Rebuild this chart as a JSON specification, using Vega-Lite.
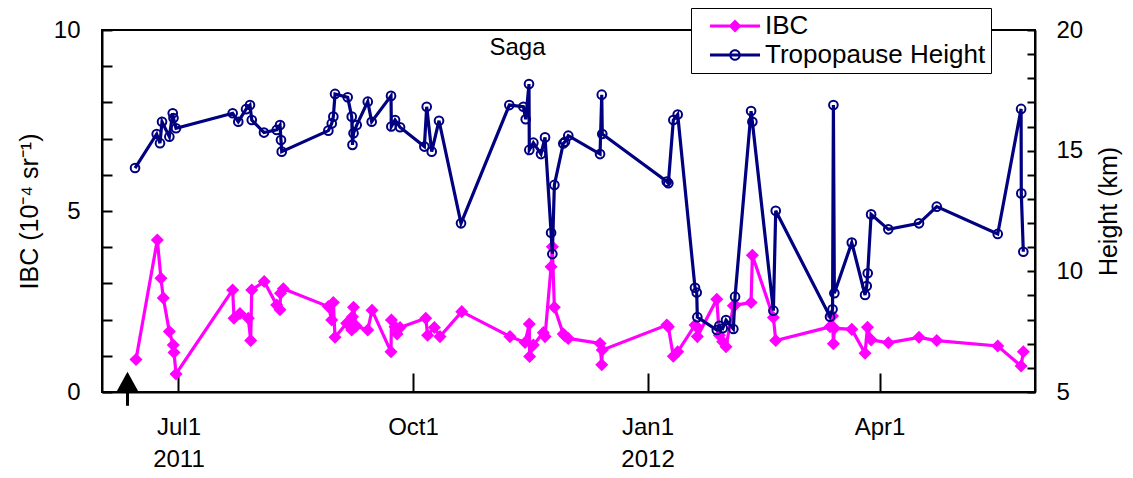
{
  "$schema": "https://vega.github.io/schema/vega-lite/v6.json",
  "width": 933,
  "height": 362,
  "autosize": {"type": "none"},
  "padding": {"left": 102, "top": 30, "right": 98, "bottom": 86},
  "background": "white",
  "config": {
    "font": "Liberation Sans",
    "view": {"stroke": "black", "strokeWidth": 2},
    "axis": {"labelFont": "Liberation Sans", "titleFont": "Liberation Sans", "labelColor": "black", "titleColor": "black", "domainColor": "black", "domainWidth": 2, "tickColor": "black", "tickWidth": 2, "grid": false, "labelFontSize": 24, "titleFontSize": 25, "titleFontWeight": "normal", "labelOverlap": false, "labelFlush": false},
    "legend": {"orient": "none", "legendX": 589, "legendY": -22, "strokeColor": "black", "fillColor": "white", "padding": 5, "labelFontSize": 26, "labelFont": "Liberation Sans", "labelColor": "black", "labelLimit": 400, "symbolSize": 100, "symbolStrokeWidth": 0, "rowPadding": 3, "symbolOffset": 26, "labelOffset": 17}
  },
  "datasets": {
    "ibc": [
      {"date": "2011-06-14T08:00", "ibc": 0.9},
      {"date": "2011-06-22T17:00", "ibc": 4.2},
      {"date": "2011-06-24T03:00", "ibc": 3.14},
      {"date": "2011-06-25T01:00", "ibc": 2.6},
      {"date": "2011-06-27T10:00", "ibc": 1.67},
      {"date": "2011-06-28T23:00", "ibc": 1.3},
      {"date": "2011-06-29T06:00", "ibc": 1.09},
      {"date": "2011-06-30T01:00", "ibc": 0.5},
      {"date": "2011-07-22T06:00", "ibc": 2.82},
      {"date": "2011-07-22T19:00", "ibc": 2.04},
      {"date": "2011-07-25T03:00", "ibc": 2.17},
      {"date": "2011-07-28T09:00", "ibc": 2.04},
      {"date": "2011-07-29T08:00", "ibc": 1.42},
      {"date": "2011-07-29T18:00", "ibc": 2.82},
      {"date": "2011-08-03T15:00", "ibc": 3.05},
      {"date": "2011-08-08T13:00", "ibc": 2.4},
      {"date": "2011-08-09T20:00", "ibc": 2.27},
      {"date": "2011-08-10T01:00", "ibc": 2.73},
      {"date": "2011-08-11T03:00", "ibc": 2.85},
      {"date": "2011-08-28T19:00", "ibc": 2.36},
      {"date": "2011-08-30T03:00", "ibc": 1.99},
      {"date": "2011-08-30T18:00", "ibc": 2.47},
      {"date": "2011-08-31T10:00", "ibc": 1.51},
      {"date": "2011-09-05T00:00", "ibc": 1.9},
      {"date": "2011-09-06T23:00", "ibc": 1.71},
      {"date": "2011-09-07T06:00", "ibc": 2.08},
      {"date": "2011-09-07T16:00", "ibc": 2.34},
      {"date": "2011-09-08T16:00", "ibc": 1.82},
      {"date": "2011-09-13T06:00", "ibc": 1.71},
      {"date": "2011-09-14T22:00", "ibc": 2.26},
      {"date": "2011-09-22T09:00", "ibc": 1.11},
      {"date": "2011-09-22T13:00", "ibc": 1.99},
      {"date": "2011-09-23T23:00", "ibc": 1.8},
      {"date": "2011-09-24T18:00", "ibc": 1.6},
      {"date": "2011-09-25T22:00", "ibc": 1.78},
      {"date": "2011-10-06T00:00", "ibc": 2.04},
      {"date": "2011-10-06T18:00", "ibc": 1.57},
      {"date": "2011-10-09T09:00", "ibc": 1.78},
      {"date": "2011-10-11T14:00", "ibc": 1.53},
      {"date": "2011-10-20T03:00", "ibc": 2.22},
      {"date": "2011-11-08T01:00", "ibc": 1.53},
      {"date": "2011-11-13T23:00", "ibc": 1.37},
      {"date": "2011-11-15T15:00", "ibc": 1.88},
      {"date": "2011-11-15T18:00", "ibc": 0.98},
      {"date": "2011-11-17T05:00", "ibc": 1.3},
      {"date": "2011-11-21T03:00", "ibc": 1.64},
      {"date": "2011-11-21T19:00", "ibc": 1.53},
      {"date": "2011-11-24T04:00", "ibc": 3.46},
      {"date": "2011-11-24T16:00", "ibc": 4.01},
      {"date": "2011-11-25T11:00", "ibc": 2.34},
      {"date": "2011-11-28T23:00", "ibc": 1.6},
      {"date": "2011-11-29T15:00", "ibc": 1.55},
      {"date": "2011-11-30T22:00", "ibc": 1.48},
      {"date": "2011-12-13T09:00", "ibc": 1.34},
      {"date": "2011-12-14T01:00", "ibc": 0.75},
      {"date": "2011-12-14T06:00", "ibc": 1.16},
      {"date": "2012-01-08T13:00", "ibc": 1.85},
      {"date": "2012-01-09T04:00", "ibc": 1.8},
      {"date": "2012-01-11T03:00", "ibc": 0.99},
      {"date": "2012-01-12T20:00", "ibc": 1.11},
      {"date": "2012-01-19T15:00", "ibc": 1.85},
      {"date": "2012-01-20T07:00", "ibc": 1.8},
      {"date": "2012-01-20T13:00", "ibc": 1.53},
      {"date": "2012-01-28T04:00", "ibc": 2.56},
      {"date": "2012-01-29T04:00", "ibc": 1.57},
      {"date": "2012-01-30T12:00", "ibc": 1.39},
      {"date": "2012-01-31T19:00", "ibc": 1.25},
      {"date": "2012-02-03T16:00", "ibc": 2.38},
      {"date": "2012-02-04T08:00", "ibc": 2.4},
      {"date": "2012-02-10T15:00", "ibc": 2.47},
      {"date": "2012-02-11T03:00", "ibc": 3.78},
      {"date": "2012-02-19T09:00", "ibc": 2.06},
      {"date": "2012-02-20T07:00", "ibc": 1.42},
      {"date": "2012-03-12T14:00", "ibc": 1.8},
      {"date": "2012-03-13T14:00", "ibc": 2.1},
      {"date": "2012-03-13T22:00", "ibc": 1.33},
      {"date": "2012-03-14T07:00", "ibc": 1.76},
      {"date": "2012-03-21T03:00", "ibc": 1.73},
      {"date": "2012-03-26T08:00", "ibc": 1.07},
      {"date": "2012-03-27T07:00", "ibc": 1.79},
      {"date": "2012-03-28T17:00", "ibc": 1.44},
      {"date": "2012-04-04T11:00", "ibc": 1.36},
      {"date": "2012-04-16T12:00", "ibc": 1.51},
      {"date": "2012-04-23T11:00", "ibc": 1.42},
      {"date": "2012-05-17T09:00", "ibc": 1.27},
      {"date": "2012-05-26T13:00", "ibc": 0.72},
      {"date": "2012-05-27T10:00", "ibc": 1.11}
    ],
    "tph": [
      {"date": "2011-06-13T23:00", "height": 14.28},
      {"date": "2011-06-22T11:00", "height": 15.69},
      {"date": "2011-06-23T18:00", "height": 15.31},
      {"date": "2011-06-24T13:00", "height": 16.2},
      {"date": "2011-06-27T10:00", "height": 15.58},
      {"date": "2011-06-28T18:00", "height": 16.55},
      {"date": "2011-06-29T01:00", "height": 16.35},
      {"date": "2011-06-30T01:00", "height": 15.93},
      {"date": "2011-07-22T06:00", "height": 16.55},
      {"date": "2011-07-24T11:00", "height": 16.2},
      {"date": "2011-07-27T12:00", "height": 16.72},
      {"date": "2011-07-29T01:00", "height": 16.89},
      {"date": "2011-07-29T18:00", "height": 16.27},
      {"date": "2011-08-03T13:00", "height": 15.75},
      {"date": "2011-08-08T13:00", "height": 15.86},
      {"date": "2011-08-09T20:00", "height": 16.06},
      {"date": "2011-08-10T05:00", "height": 15.44},
      {"date": "2011-08-10T12:00", "height": 14.96},
      {"date": "2011-08-28T19:00", "height": 15.83},
      {"date": "2011-08-30T03:00", "height": 16.13},
      {"date": "2011-08-30T18:00", "height": 16.41},
      {"date": "2011-08-31T10:00", "height": 17.35},
      {"date": "2011-09-05T09:00", "height": 17.21},
      {"date": "2011-09-06T23:00", "height": 16.41},
      {"date": "2011-09-07T06:00", "height": 15.24},
      {"date": "2011-09-07T16:00", "height": 15.72},
      {"date": "2011-09-08T22:00", "height": 16.06},
      {"date": "2011-09-13T06:00", "height": 17.03},
      {"date": "2011-09-14T19:00", "height": 16.2},
      {"date": "2011-09-22T09:00", "height": 17.27},
      {"date": "2011-09-22T12:00", "height": 16.0},
      {"date": "2011-09-23T23:00", "height": 16.27},
      {"date": "2011-09-25T22:00", "height": 15.97},
      {"date": "2011-10-05T11:00", "height": 15.17},
      {"date": "2011-10-06T09:00", "height": 16.82},
      {"date": "2011-10-08T08:00", "height": 14.96},
      {"date": "2011-10-11T05:00", "height": 16.24},
      {"date": "2011-10-19T20:00", "height": 11.99},
      {"date": "2011-11-07T19:00", "height": 16.89},
      {"date": "2011-11-13T07:00", "height": 16.82},
      {"date": "2011-11-14T05:00", "height": 16.3},
      {"date": "2011-11-15T12:00", "height": 17.76},
      {"date": "2011-11-15T15:00", "height": 15.03},
      {"date": "2011-11-17T05:00", "height": 15.33},
      {"date": "2011-11-20T05:00", "height": 14.86},
      {"date": "2011-11-21T19:00", "height": 15.55},
      {"date": "2011-11-24T04:00", "height": 11.6},
      {"date": "2011-11-24T16:00", "height": 10.72},
      {"date": "2011-11-25T11:00", "height": 13.58},
      {"date": "2011-11-28T23:00", "height": 15.3},
      {"date": "2011-11-29T15:00", "height": 15.37},
      {"date": "2011-11-30T22:00", "height": 15.62},
      {"date": "2011-12-13T09:00", "height": 14.86},
      {"date": "2011-12-14T01:00", "height": 17.32},
      {"date": "2011-12-14T06:00", "height": 15.69},
      {"date": "2012-01-08T13:00", "height": 13.72},
      {"date": "2012-01-09T04:00", "height": 13.65},
      {"date": "2012-01-11T03:00", "height": 16.27},
      {"date": "2012-01-12T20:00", "height": 16.5},
      {"date": "2012-01-19T15:00", "height": 9.32},
      {"date": "2012-01-20T07:00", "height": 9.12},
      {"date": "2012-01-20T13:00", "height": 8.1},
      {"date": "2012-01-28T04:00", "height": 7.57},
      {"date": "2012-01-29T04:00", "height": 7.74},
      {"date": "2012-01-30T12:00", "height": 7.64},
      {"date": "2012-01-31T19:00", "height": 7.98},
      {"date": "2012-02-03T16:00", "height": 7.61},
      {"date": "2012-02-04T08:00", "height": 8.95},
      {"date": "2012-02-10T15:00", "height": 16.64},
      {"date": "2012-02-11T03:00", "height": 16.2},
      {"date": "2012-02-19T09:00", "height": 8.37},
      {"date": "2012-02-20T07:00", "height": 12.51},
      {"date": "2012-03-12T14:00", "height": 8.12},
      {"date": "2012-03-13T14:00", "height": 8.43},
      {"date": "2012-03-13T22:00", "height": 16.89},
      {"date": "2012-03-14T07:00", "height": 9.09},
      {"date": "2012-03-21T03:00", "height": 11.19},
      {"date": "2012-03-26T08:00", "height": 9.02},
      {"date": "2012-03-27T00:00", "height": 9.39},
      {"date": "2012-03-27T09:00", "height": 9.92},
      {"date": "2012-03-28T17:00", "height": 12.36},
      {"date": "2012-04-04T11:00", "height": 11.74},
      {"date": "2012-04-16T12:00", "height": 11.99},
      {"date": "2012-04-23T11:00", "height": 12.68},
      {"date": "2012-05-17T09:00", "height": 11.55},
      {"date": "2012-05-26T13:00", "height": 16.73},
      {"date": "2012-05-26T15:00", "height": 13.23},
      {"date": "2012-05-27T10:00", "height": 10.81}
    ],
    "arrow": [{"date": "2011-06-11T00:00", "ibc": 0.28, "lo": -0.38}],
    "station": [{"date": "2011-11-11T00:00", "ibc": 9.5, "label": "Saga"}]
  },
  "encoding": {
    "x": {
      "field": "date", "type": "temporal",
      "scale": {"domain": ["2011-06-01T00:00", "2012-06-01T00:00"]},
      "axis": {
        "values": [{"year": 2011, "month": 7, "date": 1}, {"year": 2011, "month": 10, "date": 1}, {"year": 2012, "month": 1, "date": 1}, {"year": 2012, "month": 4, "date": 1}],
        "labelExpr": "month(datum.value) == 6 ? ['Jul1', '2011'] : month(datum.value) == 9 ? 'Oct1' : month(datum.value) == 0 ? ['Jan1', '2012'] : 'Apr1'",
        "tickSize": -19, "labelPadding": 42, "title": null, "labelLineHeight": 32, "labelBaseline": "top"
      }
    }
  },
  "layer": [
    {
      "data": {"name": "ibc"},
      "encoding": {
        "y": {
          "field": "ibc", "type": "quantitative",
          "scale": {"domain": [0, 10], "nice": false, "zero": false},
          "axis": {"title": "IBC (10⁻⁴ sr⁻¹)", "values": [0, 1, 2, 3, 4, 5, 6, 7, 8, 9, 10], "labelExpr": "datum.value % 5 === 0 ? datum.label : ''", "tickSize": -10, "labelPadding": 32, "titlePadding": 11}
        }
      },
      "layer": [
        {
          "mark": {"type": "line", "strokeWidth": 3.2},
          "encoding": {
            "color": {
              "datum": "IBC",
              "scale": {"domain": ["IBC", "Tropopause Height"], "range": ["#ff00ff", "#000080"]},
              "legend": {
                "title": null,
                "encode": {
                  "symbols": {
                    "update": {
                      "shape": {"signal": "datum.value === 'IBC' ? 'M-5,-0.32H5V0.32H-5ZM0,-1.3L1.3,0L0,1.3L-1.3,0Z' : 'M-5,-0.32H5V0.32H-5ZM-1.15,0A1.15,1.15 0 1,1 1.15,0A1.15,1.15 0 1,1 -1.15,0ZM-0.75,0A0.75,0.75 0 1,0 0.75,0A0.75,0.75 0 1,0 -0.75,0Z'"},
                      "fill": {"signal": "datum.value === 'IBC' ? '#ff00ff' : '#000080'"},
                      "stroke": {"value": "transparent"},
                      "strokeWidth": {"value": 0},
                      "opacity": {"value": 1}
                    }
                  }
                }
              }
            }
          }
        },
        {
          "mark": {"type": "point", "shape": "diamond", "filled": true, "size": 170, "opacity": 1},
          "encoding": {"color": {"datum": "IBC"}}
        },
        {
          "data": {"name": "arrow"},
          "mark": {"type": "rule", "color": "black", "strokeWidth": 3},
          "encoding": {"y2": {"field": "lo"}}
        },
        {
          "data": {"name": "arrow"},
          "mark": {"type": "point", "shape": "M0,-1L1.1,1L-1.1,1Z", "filled": true, "color": "black", "size": 400, "opacity": 1},
          "encoding": {}
        },
        {
          "data": {"name": "station"},
          "mark": {"type": "text", "fontSize": 24, "font": "Liberation Sans", "color": "black", "align": "center", "baseline": "middle"},
          "encoding": {"text": {"field": "label"}}
        }
      ]
    },
    {
      "data": {"name": "tph"},
      "encoding": {
        "y": {
          "field": "height", "type": "quantitative",
          "scale": {"domain": [5, 20], "nice": false, "zero": false},
          "axis": {"orient": "right", "title": "Height (km)", "values": [5, 6, 7, 8, 9, 10, 11, 12, 13, 14, 15, 16, 17, 18, 19, 20], "labelExpr": "datum.value % 5 === 0 ? datum.label : ''", "tickSize": -8, "labelPadding": 29, "titlePadding": 39, "titleAngle": 270}
        }
      },
      "layer": [
        {
          "mark": {"type": "line", "strokeWidth": 3.2},
          "encoding": {"color": {"datum": "Tropopause Height"}}
        },
        {
          "mark": {"type": "point", "shape": "circle", "filled": false, "size": 75, "strokeWidth": 2, "opacity": 1},
          "encoding": {"color": {"datum": "Tropopause Height"}}
        }
      ]
    }
  ],
  "resolve": {"scale": {"y": "independent"}}
}
